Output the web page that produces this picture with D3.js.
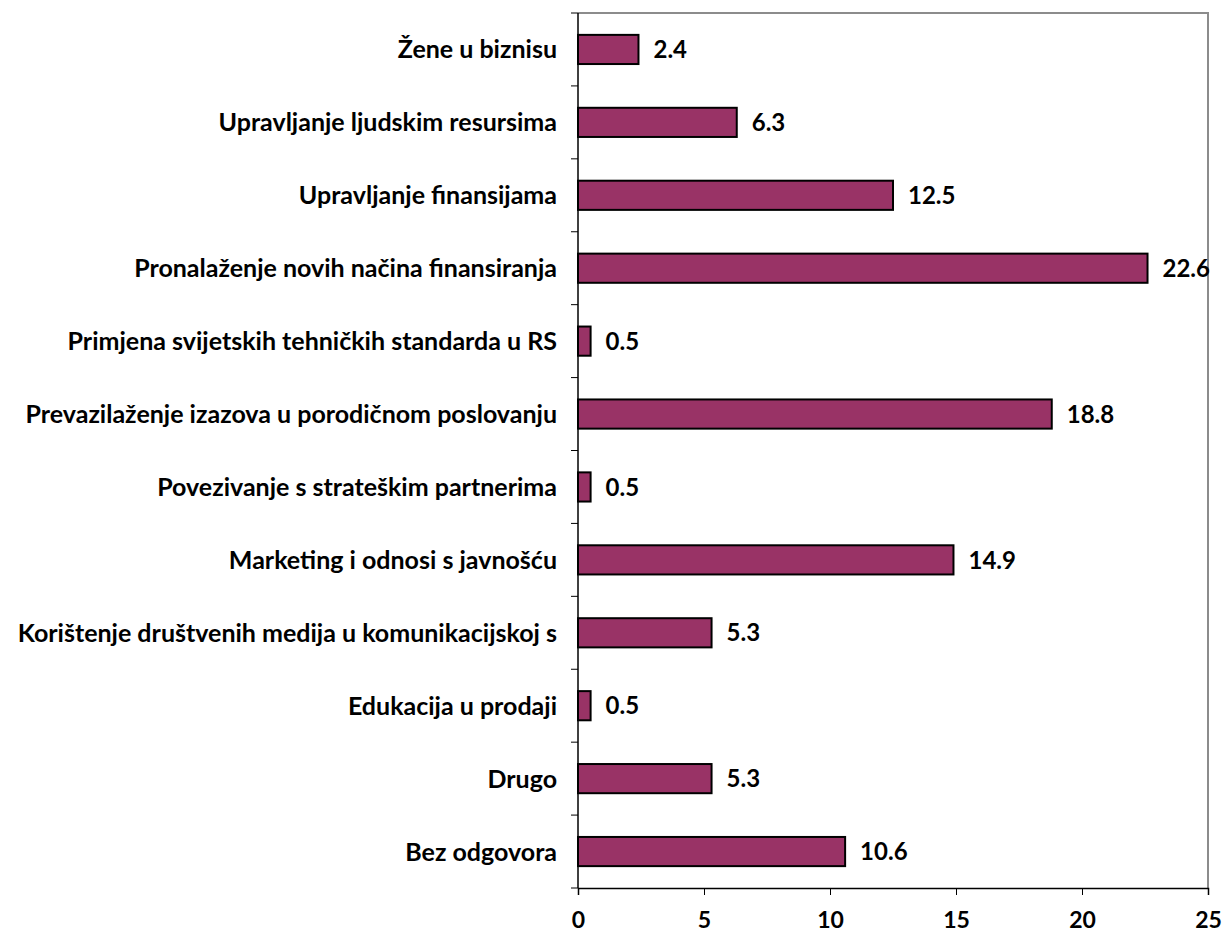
<!DOCTYPE html>
<html>
<head>
<meta charset="utf-8">
<script src="https://cdn.jsdelivr.net/npm/d3@7"></script>
<style>
  body { margin: 0; background: #fff; }
  text { font-family: Lato, "Open Sans", sans-serif; font-weight: bold; fill: #000; }
</style>
</head>
<body>
<div id="chart"></div>
<script>
var categories = [
  "Žene u biznisu",
  "Upravljanje ljudskim resursima",
  "Upravljanje finansijama",
  "Pronalaženje novih načina finansiranja",
  "Primjena svijetskih tehničkih standarda u RS",
  "Prevazilaženje izazova u porodičnom poslovanju",
  "Povezivanje s strateškim partnerima",
  "Marketing i odnosi s javnošću",
  "Korištenje društvenih medija u komunikacijskoj s",
  "Edukacija u prodaji",
  "Drugo",
  "Bez odgovora"
];
var values = [2.4, 6.3, 12.5, 22.6, 0.5, 18.8, 0.5, 14.9, 5.3, 0.5, 5.3, 10.6];
var xTicks = [0, 5, 10, 15, 20, 25];

var width = 1222, height = 932;
var plotLeft = 578, plotRight = 1208, plotTop = 13, plotBottom = 888;

var svg = d3.select("#chart").append("svg")
  .attr("width", width)
  .attr("height", height);

var x = d3.scaleLinear().domain([0, 25]).range([plotLeft, plotRight]);
var y = d3.scaleBand().domain(categories).range([plotTop, plotBottom]).paddingInner(0.6).paddingOuter(0.3);

// plot border (top, right) in grey
svg.append("path")
  .attr("d", "M" + plotLeft + "," + plotTop + "H" + plotRight + "V" + plotBottom)
  .attr("fill", "none")
  .attr("stroke", "#8c8c8c")
  .attr("stroke-width", 2);

// bars
svg.append("g").selectAll("rect")
  .data(values)
  .enter().append("rect")
  .attr("x", x(0))
  .attr("y", function(d, i) { return y(categories[i]); })
  .attr("width", function(d) { return x(d) - x(0); })
  .attr("height", y.bandwidth())
  .attr("fill", "#993366")
  .attr("stroke", "#000")
  .attr("stroke-width", 2);

// value labels
svg.append("g").selectAll("text")
  .data(values)
  .enter().append("text")
  .attr("x", function(d) { return x(d) + 15; })
  .attr("y", function(d, i) { return y(categories[i]) + y.bandwidth() / 2; })
  .attr("dy", "0.36em")
  .style("font-size", "24px")
  .text(function(d) { return d.toFixed(1); });

// y axis
svg.append("line")
  .attr("x1", plotLeft).attr("x2", plotLeft)
  .attr("y1", plotTop).attr("y2", plotBottom)
  .attr("stroke", "#000").attr("stroke-width", 1.5);
svg.append("g").selectAll("line")
  .data(d3.range(categories.length + 1))
  .enter().append("line")
  .attr("x1", plotLeft - 7).attr("x2", plotLeft)
  .attr("y1", function(d) { return plotTop + d * y.step(); })
  .attr("y2", function(d) { return plotTop + d * y.step(); })
  .attr("stroke", "#000").attr("stroke-width", 1);
svg.append("g").selectAll("text")
  .data(categories)
  .enter().append("text")
  .attr("x", plotLeft - 21)
  .attr("y", function(d) { return y(d) + y.bandwidth() / 2; })
  .attr("dy", "0.36em")
  .attr("text-anchor", "end")
  .style("font-size", "25px")
  .text(function(d) { return d; });

// x axis
var xAxis = svg.append("g")
  .attr("transform", "translate(0," + plotBottom + ")")
  .call(d3.axisBottom(x).tickValues(xTicks).tickSize(7).tickPadding(17).tickFormat(d3.format("d")));
xAxis.select(".domain").attr("stroke", "#000").attr("stroke-width", 1.5);
xAxis.selectAll(".tick line").attr("stroke", "#000");
xAxis.selectAll(".tick text")
  .style("font-family", "Lato, 'Open Sans', sans-serif")
  .style("font-weight", "bold")
  .style("font-size", "23px");
</script>
</body>
</html>
